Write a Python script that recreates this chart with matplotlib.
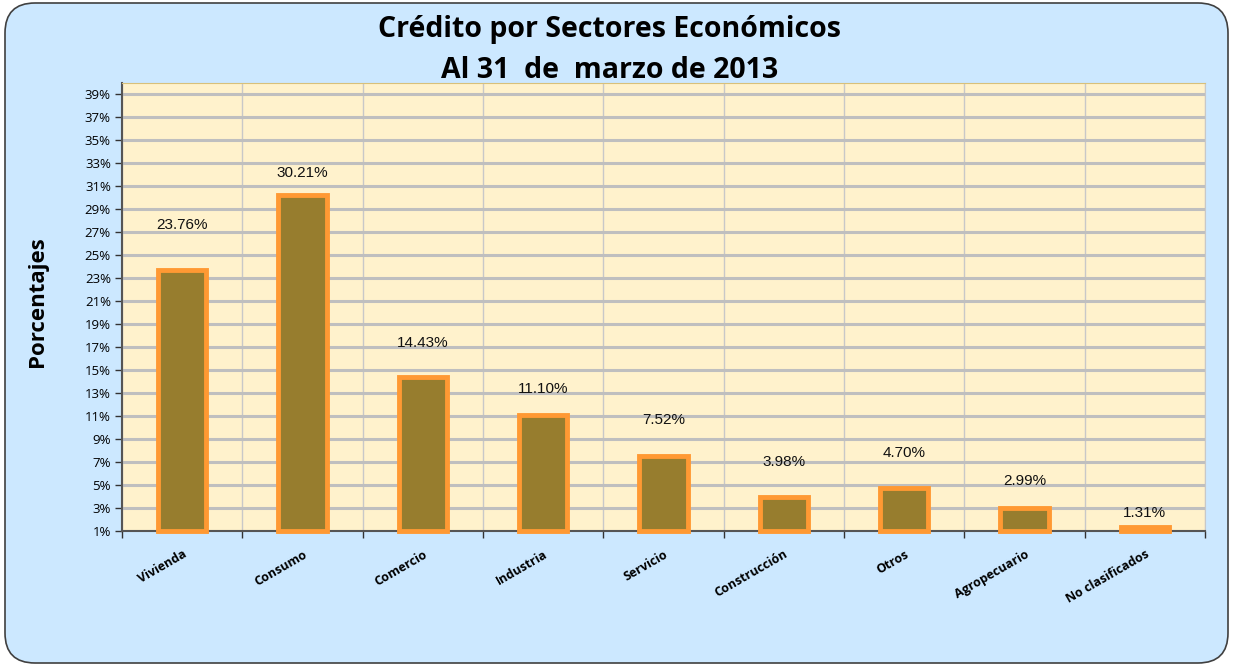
import matplotlib
matplotlib.use("Agg")
import matplotlib.pyplot as plt
from matplotlib.patches import FancyBboxPatch
import numpy as np

categories = ["Vivienda", "Consumo", "Comercio", "Industria", "Servicio",
              "Construcción", "Otros", "Agropecuario", "No clasificados"]
values = [23.76, 30.21, 14.43, 11.10, 7.52, 3.98, 4.70, 2.99, 1.31]
label_offsets_px = [45, 22, 34, 26, 36, 35, 35, 27, 14]
yticks = list(range(1, 40, 2))

W, H = 1235, 665
fig = plt.figure(figsize=(12.35, 6.65), dpi=100)
fig.patch.set_facecolor("white")
bg = FancyBboxPatch((5 / W, 2 / H), (W - 12) / W, (H - 5) / H,
                    boxstyle="round,pad=0,rounding_size=%f" % (30 / W),
                    transform=fig.transFigure, facecolor="#CCE8FF",
                    edgecolor="#404040", linewidth=1.2, zorder=-10,
                    mutation_aspect=W / H)
fig.patches.append(bg)

ax = fig.add_axes([122 / W, 1 - 531 / H, (1205 - 122) / W, (531 - 83) / H], zorder=2)
ax.set_facecolor("#FFF2CC")
ax.set_xlim(0, len(categories))
ax.set_ylim(1, 40)

x = np.arange(len(categories)) + 0.5
bars = ax.bar(x, [v - 1 for v in values], bottom=1, width=0.4,
              color="#977D2E", edgecolor="#FF9933", linewidth=3.5, zorder=3,
              clip_on=False)

ax.set_yticks(yticks)
ax.set_yticklabels([f"{t}%" for t in yticks], fontsize=9.5, family="Open Sans")
ax.set_xticks(np.arange(len(categories) + 1))
ax.set_xticklabels([])
for xi, c in zip(x, categories):
    ax.text(xi, -0.45, c, rotation=30,
            ha="right", va="top", fontsize=9, fontweight="bold",
            family="Open Sans", rotation_mode="anchor", clip_on=False)

ax.grid(axis="y", color="#BFBFBF", linewidth=2.2, zorder=1)
ax.grid(axis="x", color="#C8C8C8", linewidth=1.0, zorder=1)
ax.set_axisbelow(True)
ax.tick_params(axis="y", direction="out", length=5, width=1, color="#333333", pad=3)
ax.tick_params(axis="x", direction="out", length=5, width=1, color="#333333")
for s in ["left", "bottom"]:
    ax.spines[s].set_color("#555555")
    ax.spines[s].set_linewidth(1.5)
ax.spines["top"].set_color("#D8C07A")
ax.spines["right"].set_color("#C8C8C8")

for xi, v, off in zip(x, values, label_offsets_px):
    ax.annotate(f"{v:.2f}%", (xi, v), xytext=(0, off * 0.72),
                textcoords="offset points", ha="center", va="center",
                fontsize=11, family="Liberation Sans", color="#111111", zorder=5)

fig.text(610 / W, 1 - 30 / H, "Crédito por Sectores Económicos",
         ha="center", va="center", fontsize=20.5, fontweight="bold", family="Open Sans")
fig.text(610 / W, 1 - 70 / H, "Al 31  de  marzo de 2013",
         ha="center", va="center", fontsize=20.5, fontweight="bold", family="Open Sans")
fig.text(38 / W, 1 - 302 / H, "Porcentajes", rotation=90,
         ha="center", va="center", fontsize=16, fontweight="bold", family="Open Sans")

fig.savefig("out.png", dpi=100, facecolor=fig.get_facecolor())
